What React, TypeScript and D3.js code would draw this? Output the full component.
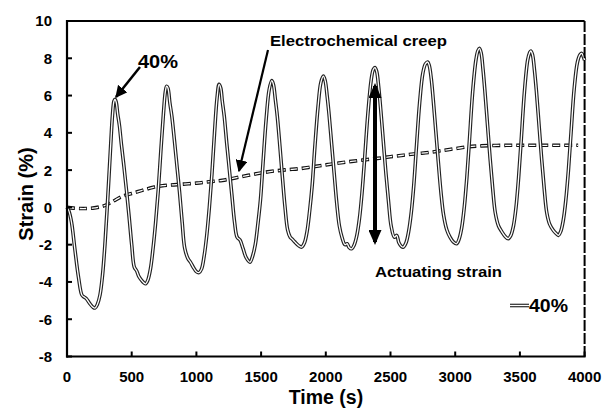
import React from "react";
import * as d3 from "d3";

const strainT = [0,15,35,60,90,115,130,150,175,200,216,235,255,275,295,315,335,352,363,371,380,392,405,420,440,460,480,500,520,538,555,575,595,608,625,645,665,685,705,725,745,760,770,780,795,810,830,850,870,890,910,935,955,975,1000,1020,1040,1060,1080,1100,1120,1140,1160,1175,1188,1200,1215,1235,1255,1275,1295,1315,1337,1360,1385,1414,1435,1455,1475,1495,1515,1540,1562,1582,1595,1610,1625,1645,1665,1685,1705,1725,1740,1760,1790,1813,1835,1855,1875,1895,1915,1940,1962,1981,1995,2010,2025,2045,2065,2085,2105,2125,2148,2165,2180,2200,2220,2240,2260,2280,2300,2325,2350,2367,2380,2393,2408,2425,2445,2465,2485,2505,2530,2548,2565,2585,2599,2620,2640,2660,2680,2700,2725,2750,2770,2788,2800,2815,2830,2850,2870,2890,2910,2935,2960,2985,3011,3030,3050,3070,3090,3110,3135,3160,3175,3187,3200,3215,3230,3250,3270,3290,3310,3335,3360,3385,3410,3430,3450,3470,3490,3510,3535,3560,3575,3584,3597,3612,3628,3648,3668,3688,3708,3730,3755,3780,3797,3815,3835,3855,3875,3895,3920,3945,3965,3978,3990,4000];
const strainV = [0,-0.2,-0.8,-2.2,-3.8,-4.7,-4.8,-4.9,-5.15,-5.35,-5.4,-5.2,-4.7,-3.6,-1.8,0.5,3.0,5.0,5.7,5.8,5.65,5.0,4.4,3.4,2.2,0.9,-0.5,-2.0,-3.2,-3.4,-3.7,-3.9,-4.05,-4.1,-3.9,-3.3,-2.2,-0.8,0.9,3.0,5.0,6.2,6.5,6.4,5.6,4.9,3.6,2.2,0.8,-0.8,-2.2,-2.75,-2.95,-3.2,-3.45,-3.5,-3.3,-2.6,-1.5,0,1.8,4.0,5.9,6.6,6.4,5.7,4.9,3.4,2.0,0.6,-0.8,-1.6,-1.75,-2.2,-2.7,-2.94,-2.6,-2.0,-0.9,0.4,2.4,4.8,6.3,6.8,6.6,5.8,4.9,3.3,1.6,0,-1.2,-1.6,-1.7,-1.85,-2.05,-2.13,-1.9,-1.3,-0.2,1.2,3.2,5.4,6.7,7.04,6.8,6.0,5.0,3.4,1.8,0.2,-1.0,-1.6,-2.0,-1.95,-2.15,-2.22,-2.0,-1.5,-0.6,0.8,2.6,5.0,6.8,7.4,7.5,7.3,6.5,5.2,3.5,1.8,0.3,-1.0,-1.6,-1.5,-1.9,-2.1,-2.13,-1.9,-1.3,-0.3,1.2,3.2,5.6,7.2,7.7,7.8,7.6,6.9,5.8,4.1,2.4,0.8,-0.4,-1.2,-1.6,-1.85,-1.95,-1.7,-1.1,0,1.6,3.6,6.2,7.9,8.4,8.53,8.3,7.4,6.2,4.4,2.6,1.0,-0.3,-1.0,-1.3,-1.55,-1.68,-1.5,-1.0,0,1.6,3.6,6.2,7.9,8.3,8.39,8.2,7.4,6.2,4.4,2.6,1.0,-0.3,-0.9,-1.2,-1.4,-1.5,-1.3,-0.7,0.4,2.0,4.0,6.4,7.8,8.2,8.26,8.1,7.9];

const creepT = [0,50,100,150,200,250,300,350,400,450,500,550,600,650,700,750,800,850,900,1000,1100,1200,1300,1400,1500,1600,1700,1800,1900,2000,2100,2200,2300,2400,2500,2600,2700,2800,2900,3000,3100,3200,3300,3400,3500,3600,3700,3800,3900,3950];
const creepV = [0,-0.04,-0.06,-0.06,-0.04,0.02,0.12,0.3,0.5,0.65,0.75,0.85,0.95,1.05,1.13,1.17,1.2,1.22,1.25,1.3,1.38,1.45,1.58,1.72,1.85,1.95,2.02,2.08,2.18,2.28,2.38,2.47,2.55,2.63,2.72,2.8,2.88,2.95,3.05,3.15,3.25,3.3,3.32,3.33,3.33,3.33,3.33,3.33,3.33,3.33];

const xTicks = [0,500,1000,1500,2000,2500,3000,3500,4000];
const yTicks = [-8,-6,-4,-2,0,2,4,6,8,10];
const seriesName = "40%";

const FONT = "'Liberation Sans', Arial, sans-serif";

export default function App() {
  const x = d3.scaleLinear().domain([0, 4000]).range([67, 584.6]);
  const y = d3.scaleLinear().domain([-8, 10]).range([356.5, 21]);
  const strainData = strainT.map((t, i) => [t, strainV[i]] as [number, number]);
  const creepData = creepT.map((t, i) => [t, creepV[i]] as [number, number]);
  const line = d3.line<[number, number]>().x(d => x(d[0])).y(d => y(d[1])).curve(d3.curveCatmullRom.alpha(0.5));
  const sPath = line(strainData) || "";
  const cPath = line(creepData) || "";
  const x0 = x(0), x1 = x(4000), yTop = y(10), yBot = y(-8);

  return (
    <svg width={602} height={410} style={{ position: "absolute", left: 0, top: 0 }} fontFamily={FONT}>
      <defs>
        <marker id="ah" viewBox="0 0 10 10" refX="9" refY="5" markerWidth="12" markerHeight="12" markerUnits="userSpaceOnUse" orient="auto">
          <path d="M0,0 L10,5 L0,10 Z" fill="#000" />
        </marker>
        <marker id="ah2" viewBox="0 0 10 10" refX="8" refY="5" markerWidth="15" markerHeight="13" markerUnits="userSpaceOnUse" orient="auto-start-reverse" preserveAspectRatio="none">
          <path d="M0,0 L10,5 L0,10 Z" fill="#000" />
        </marker>
      </defs>
      <rect width={602} height={410} fill="#fff" />
      {/* creep (dashed double line) */}
      <path d={cPath} fill="none" stroke="#111" strokeWidth={3.6} strokeDasharray="8,4" />
      <path d={cPath} fill="none" stroke="#fff" strokeWidth={1.3} strokeDasharray="6.4,5.6" strokeDashoffset={-0.8} />
      {/* strain (double line) */}
      <path d={sPath} fill="none" stroke="#222" strokeWidth={3.6} strokeLinejoin="round" />
      <path d={sPath} fill="none" stroke="#fff" strokeWidth={1.3} strokeLinejoin="round" />
      {/* frame */}
      <line x1={x0} x2={x1} y1={yTop} y2={yTop} stroke="#000" strokeWidth={2} />
      <line x1={x1} x2={x1} y1={yTop} y2={yBot} stroke="#000" strokeWidth={2} strokeDasharray="11,2" />
      <line x1={x0} x2={x0} y1={yTop - 1} y2={yBot + 1} stroke="#000" strokeWidth={2.2} />
      <line x1={x0 - 1} x2={x1 + 1} y1={yBot} y2={yBot} stroke="#000" strokeWidth={2.2} />
      {yTicks.map(t => (
        <g key={"y" + t}>
          <line x1={x0} x2={x0 + 5} y1={y(t)} y2={y(t)} stroke="#000" strokeWidth={2} />
          <text x={52} y={y(t)} dy="0.36em" textAnchor="end" fontSize={15} fontWeight="bold">{t}</text>
        </g>
      ))}
      {xTicks.map(t => (
        <g key={"x" + t}>
          <line x1={x(t)} x2={x(t)} y1={yBot} y2={yBot - 5} stroke="#000" strokeWidth={2} />
          <text x={x(t)} y={381.5} textAnchor="middle" fontSize={15} fontWeight="bold">{t}</text>
        </g>
      ))}
      <text x={326} y={404} textAnchor="middle" fontSize={19.5} fontWeight="bold">Time (s)</text>
      <text transform="translate(33,194) rotate(-90)" textAnchor="middle" fontSize={20} fontWeight="bold">Strain (%)</text>
      {/* annotations */}
      <text x={138} y={68} fontSize={19} fontWeight="bold" textLength={40} lengthAdjust="spacingAndGlyphs">40%</text>
      <line x1={140} y1={67} x2={116} y2={97} stroke="#000" strokeWidth={2.5} markerEnd="url(#ah)" />
      <text x={270} y={45.5} fontSize={15.5} fontWeight="bold" textLength={177} lengthAdjust="spacingAndGlyphs">Electrochemical creep</text>
      <line x1={268} y1={50} x2={239} y2={171} stroke="#000" strokeWidth={2.2} markerEnd="url(#ah)" />
      <line x1={375} y1={86} x2={375} y2={242} stroke="#000" strokeWidth={4} markerEnd="url(#ah2)" markerStart="url(#ah2)" />
      <text x={375} y={276.5} fontSize={15.5} fontWeight="bold" textLength={127} lengthAdjust="spacingAndGlyphs">Actuating strain</text>
      {/* legend */}
      <line x1={510} x2={529} y1={305.5} y2={305.5} stroke="#222" strokeWidth={3.6} />
      <line x1={510} x2={529} y1={305.5} y2={305.5} stroke="#fff" strokeWidth={1.3} />
      <text x={529} y={312} fontSize={18} fontWeight="bold" textLength={39} lengthAdjust="spacingAndGlyphs">{seriesName}</text>
    </svg>
  );
}
